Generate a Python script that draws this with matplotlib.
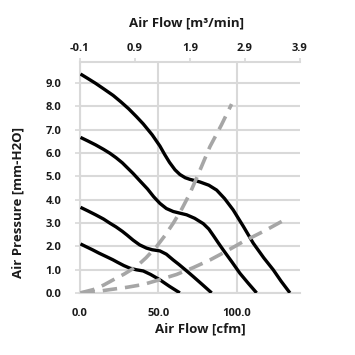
import numpy as np
import matplotlib.pyplot as plt

plt.rcParams['font.family'] = ['Open Sans', 'DejaVu Sans']

# fan curves, cfm vs mm-H2O
c1_x = [0.4, 5, 10, 15, 21.2, 26, 31, 36, 40.3, 46, 50.9, 54, 57, 60.5, 63.6, 67, 70, 73, 76.3, 82, 87, 92, 97.5, 104, 110.3, 117, 123, 128, 133.6]
c1_y = [9.39, 9.2, 8.99, 8.76, 8.47, 8.2, 7.9, 7.56, 7.25, 6.78, 6.3, 5.93, 5.6, 5.28, 5.08, 4.94, 4.87, 4.82, 4.76, 4.62, 4.41, 4.05, 3.56, 2.85, 2.13, 1.5, 0.99, 0.5, 0.0]
c2_x = [0.4, 5, 10, 15, 19.1, 23, 27, 30, 33.9, 38, 43, 47, 50.9, 55, 59.4, 63, 67.9, 73, 78.5, 82, 85, 88, 91.2, 97, 101.8, 107, 112.4]
c2_y = [6.67, 6.52, 6.35, 6.16, 5.99, 5.8, 5.58, 5.38, 5.12, 4.82, 4.46, 4.12, 3.84, 3.62, 3.49, 3.43, 3.35, 3.2, 2.97, 2.74, 2.45, 2.15, 1.84, 1.3, 0.84, 0.42, 0.0]
c3_x = [0.4, 5, 10, 15, 19.1, 23, 27, 30, 33.9, 38, 42.4, 46, 50.9, 55, 59.4, 63, 66, 69, 72.1, 78, 83.8]
c3_y = [3.67, 3.52, 3.35, 3.17, 2.99, 2.83, 2.64, 2.48, 2.26, 2.06, 1.92, 1.85, 1.80, 1.66, 1.41, 1.22, 1.05, 0.88, 0.70, 0.35, 0.0]
c4_x = [0.4, 4, 8, 12, 17, 21, 24, 28, 31.8, 36, 40.3, 45, 50.9, 57, 63.6]
c4_y = [2.10, 1.98, 1.85, 1.71, 1.55, 1.42, 1.31, 1.17, 1.06, 0.99, 0.94, 0.79, 0.56, 0.28, 0.0]

# system impedance curves
s1_x = [0.4, 8.5, 15, 21.2, 28, 36, 42, 48.8, 54, 59.4, 65, 70, 76, 82.7, 90, 96.5]
s1_y = [0.0, 0.14, 0.33, 0.56, 0.8, 1.13, 1.5, 1.99, 2.45, 2.99, 3.62, 4.27, 5.2, 6.27, 7.2, 8.1]
s2_x = [0.4, 10, 19.1, 30, 40.3, 50, 61.5, 72, 82.7, 93, 103.9, 118, 131.5]
s2_y = [0.0, 0.05, 0.14, 0.24, 0.36, 0.55, 0.79, 1.08, 1.41, 1.78, 2.20, 2.68, 3.18]

x_ticks = [0, 50, 100]
x_labels = ['0.0', '50.0', '100.0']
y_ticks = np.arange(0, 10, 1.0)
top_ticks = [-0.1, 0.9, 1.9, 2.9, 3.9]

fig = plt.figure(figsize=(3.55, 3.55), dpi=100)
ax = fig.add_axes([0.225, 0.175, 0.62, 0.65])

grid_c = '#d9d9d9'
txt_c = '#1a1a1a'

for xs, ys in [(c1_x, c1_y), (c2_x, c2_y), (c3_x, c3_y), (c4_x, c4_y)]:
    ax.plot(xs, ys, color='black', lw=2.4, solid_capstyle='butt', solid_joinstyle='round', zorder=3)
for xs, ys in [(s1_x, s1_y), (s2_x, s2_y)]:
    ax.plot(xs, ys, color='#a6a6a6', lw=2.6, dashes=(4, 2.2), zorder=3)

ax.set_xlim(0, 140)
ax.set_ylim(0, 9.9)
ax.set_xticks(x_ticks)
ax.set_xticklabels(x_labels)
ax.set_yticks(y_ticks)
ax.set_yticklabels(['%.1f' % v for v in y_ticks])
ax.grid(True, color=grid_c, lw=1.5, zorder=0)
ax.set_axisbelow(True)
for s in ax.spines.values():
    s.set_visible(False)
for side in ['left', 'bottom']:
    ax.spines[side].set_visible(True)
    ax.spines[side].set_color(grid_c)
    ax.spines[side].set_linewidth(1.5)
ax.tick_params(axis='x', length=0, labelsize=8, labelcolor=txt_c, pad=11)
ax.tick_params(axis='y', length=3.5, width=1.2, color=grid_c, labelsize=8, labelcolor=txt_c, pad=10)
for lab in ax.get_xticklabels() + ax.get_yticklabels():
    lab.set_fontweight('bold')
ax.set_xlabel('Air Flow [cfm]', fontsize=9.5, fontweight='bold', color=txt_c, va='center')
ax.xaxis.set_label_coords(0.545, -0.156)
ax.set_ylabel('Air Pressure [mm-H2O]', fontsize=9.5, fontweight='bold', color=txt_c, va='center')
ax.yaxis.set_label_coords(-0.28, 0.39)

top = ax.twiny()
top.set_xlim(-0.1, 3.9)
top.set_xticks(top_ticks)
top.set_xticklabels(['%.1f' % v for v in top_ticks])
for s in top.spines.values():
    s.set_visible(False)
top.spines['top'].set_visible(True)
top.spines['top'].set_color(grid_c)
top.spines['top'].set_linewidth(1.5)
top.tick_params(axis='x', length=3, width=1.2, color=grid_c, labelsize=8, labelcolor=txt_c, pad=3)
for lab in top.get_xticklabels():
    lab.set_fontweight('bold')
top.set_xlabel('Air Flow [m³/min]', fontsize=9.5, fontweight='bold', color=txt_c, va='center')
top.xaxis.set_label_coords(0.486, 1.169)

fig.savefig('out.png', dpi=100)
